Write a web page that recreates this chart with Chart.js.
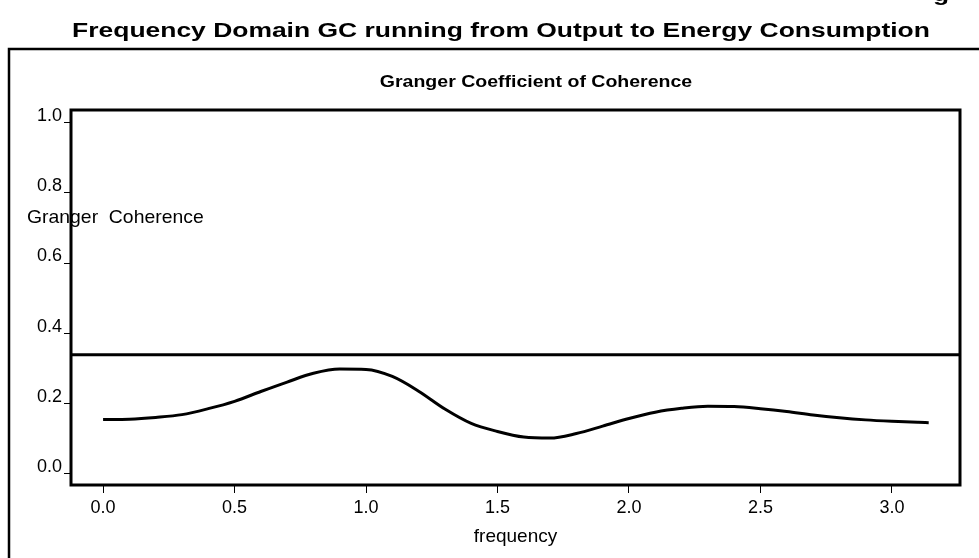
<!DOCTYPE html>
<html>
<head>
<meta charset="utf-8">
<script src="https://cdn.jsdelivr.net/npm/chart.js@4.4.1/dist/chart.umd.min.js"></script>
<style>
  html, body { margin: 0; padding: 0; background: #fff; }
</style>
</head>
<body>
<canvas id="chart" width="979" height="558"></canvas>
<script>
// values
const freq = [0, 0.1, 0.2, 0.3, 0.4, 0.5, 0.6, 0.7, 0.8, 0.9, 1.0, 1.1, 1.2, 1.3, 1.4, 1.5,
  1.6, 1.7, 1.8, 1.9, 2.0, 2.1, 2.2, 2.3, 2.4, 2.5, 2.6, 2.7, 2.8, 2.9, 3.0, 3.1, 3.14];
const coherence = [0.153, 0.154, 0.159, 0.167, 0.184, 0.205, 0.233, 0.260, 0.285, 0.297, 0.296,
  0.276, 0.234, 0.183, 0.142, 0.119, 0.103, 0.100, 0.113, 0.134, 0.156, 0.174, 0.185, 0.191,
  0.190, 0.184, 0.176, 0.166, 0.158, 0.152, 0.148, 0.145, 0.144];
const threshold = 0.338;
const xTicks = [0, 0.5, 1.0, 1.5, 2.0, 2.5, 3.0];
const yTicks = [0, 0.2, 0.4, 0.6, 0.8, 1.0];

const X_MIN = -0.122, X_MAX = 3.259;
const Y_MIN = -0.034, Y_MAX = 1.037;
const FONT = "'Liberation Sans', Arial, sans-serif";

Chart.defaults.font.family = FONT;
Chart.defaults.color = '#000';

// draws text stretched horizontally like the picture does
function wideText(ctx, text, x, y, sx, font, align) {
  ctx.save();
  ctx.font = font;
  ctx.fillStyle = '#000';
  ctx.textAlign = align || 'center';
  ctx.textBaseline = 'alphabetic';
  ctx.translate(x, y);
  ctx.scale(sx, 1);
  ctx.fillText(text, 0, 0);
  ctx.restore();
}

const framePlugin = {
  id: 'frame',
  beforeDraw(chart) {
    const ctx = chart.ctx;
    ctx.save();
    ctx.fillStyle = '#fff';
    ctx.fillRect(0, 0, chart.width, chart.height);
    ctx.restore();
  },
  afterDraw(chart) {
    const ctx = chart.ctx;
    const a = chart.chartArea;

    // cut-off text from above
    wideText(ctx, 'g', 941, 1, 1.32, 'bold 20px ' + FONT);
    wideText(ctx, 'Frequency Domain GC running from Output to Energy Consumption', 501, 37, 1.322, 'bold 20px ' + FONT);

    ctx.save();
    ctx.strokeStyle = '#000';
    ctx.lineWidth = 2.5;
    ctx.strokeRect(9, 49, 1100, 700);
    ctx.restore();

    wideText(ctx, 'Granger Coefficient of Coherence', 536, 87, 1.22, 'bold 16px ' + FONT);
    wideText(ctx, 'Granger  Coherence', 27, 223, 1.02, '19px ' + FONT, 'left');

    ctx.save();
    ctx.strokeStyle = '#000';
    ctx.lineWidth = 3;
    ctx.strokeRect(a.left, a.top, a.right - a.left, a.bottom - a.top);
    ctx.restore();
  }
};

new Chart(document.getElementById('chart'), {
  type: 'line',
  data: {
    datasets: [
      {
        data: freq.map((f, i) => ({ x: f, y: coherence[i] })),
        borderColor: '#000',
        borderWidth: 3,
        pointRadius: 0,
        tension: 0.4,
        cubicInterpolationMode: 'monotone'
      },
      {
        data: [{ x: X_MIN, y: threshold }, { x: X_MAX, y: threshold }],
        borderColor: '#000',
        borderWidth: 3,
        pointRadius: 0
      }
    ]
  },
  options: {
    responsive: false,
    animation: false,
    layout: { padding: { left: 11, top: 110, right: 19, bottom: 0 } },
    plugins: {
      legend: { display: false },
      tooltip: { enabled: false }
    },
    scales: {
      x: {
        type: 'linear',
        min: X_MIN,
        max: X_MAX,
        afterBuildTicks: s => { s.ticks = xTicks.map(v => ({ value: v })); },
        afterFit: s => { s.height = 73; },
        ticks: {
          autoSkip: false,
          maxRotation: 0,
          padding: 4,
          font: { size: 18 },
          callback: v => v.toFixed(1)
        },
        grid: { drawOnChartArea: false, drawTicks: true, tickLength: 8, color: '#000', lineWidth: 1 },
        border: { display: false },
        title: { display: true, text: 'frequency', font: { size: 19 }, padding: { top: 0, bottom: 10 } }
      },
      y: {
        min: Y_MIN,
        max: Y_MAX,
        afterBuildTicks: s => { s.ticks = yTicks.map(v => ({ value: v })); },
        afterFit: s => { s.width = 60; },
        ticks: {
          autoSkip: false,
          padding: 2,
          labelOffset: -6.5,
          font: { size: 18 },
          callback: v => v.toFixed(1)
        },
        grid: { drawOnChartArea: false, drawTicks: true, tickLength: 7, color: '#000', lineWidth: 1 },
        border: { display: false }
      }
    }
  },
  plugins: [framePlugin]
});
</script>
</body>
</html>
